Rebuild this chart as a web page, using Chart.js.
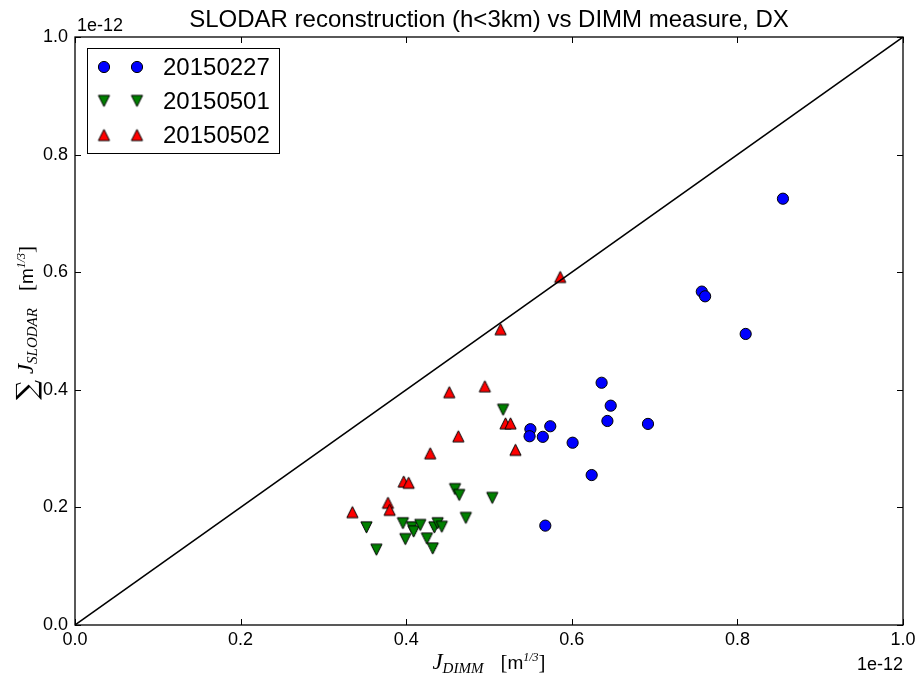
<!DOCTYPE html>
<html>
<head>
<meta charset="utf-8">
<script src="https://cdn.jsdelivr.net/npm/chart.js@4"></script>
<style>
  html, body { margin: 0; padding: 0; background: #fff; }
  canvas { display: block; }
</style>
</head>
<body>
<canvas id="chart" width="921" height="681"></canvas>
<script>
(() => {
    // all values in units of 1e-12 m^(1/3)
    const X_20150227 = [0.550, 0.549, 0.574, 0.565, 0.601, 0.568, 0.624, 0.636, 0.647, 0.643, 0.692, 0.757, 0.761, 0.810, 0.855];
    const Y_20150227 = [0.333, 0.321, 0.338, 0.320, 0.310, 0.169, 0.255, 0.412, 0.373, 0.347, 0.342, 0.567, 0.559, 0.495, 0.725];

    const X_20150501 = [0.517, 0.459, 0.464, 0.504, 0.472, 0.352, 0.396, 0.407, 0.409, 0.417, 0.434, 0.438, 0.443, 0.399, 0.425, 0.364, 0.432];
    const Y_20150501 = [0.366, 0.231, 0.221, 0.216, 0.182, 0.166, 0.173, 0.166, 0.159, 0.170, 0.166, 0.173, 0.167, 0.146, 0.147, 0.128, 0.130];

    const X_20150502 = [0.586, 0.514, 0.495, 0.452, 0.520, 0.526, 0.532, 0.463, 0.429, 0.397, 0.403, 0.378, 0.380, 0.335];
    const Y_20150502 = [0.592, 0.503, 0.406, 0.396, 0.343, 0.343, 0.298, 0.321, 0.292, 0.244, 0.242, 0.208, 0.196, 0.192];

    // 1:1 reference line
    const DIAG_X = [0, 1];
    const DIAG_Y = [0, 1];

    const TICKS = [0, 0.2, 0.4, 0.6, 0.8, 1.0];
    const TITLE = 'SLODAR reconstruction (h<3km) vs DIMM measure, DX';
    const OFFSET_TEXT = '1e-12';

    const SANS = '"Liberation Sans", Arial, Helvetica, sans-serif';
    const SERIF = '"Liberation Serif", "Times New Roman", serif';

    const pts = (xs, ys) => xs.map((x, i) => ({ x, y: ys[i] }));

    // matplotlib-like triangle markers
    function triangle(color, down) {
        const c = document.createElement('canvas');
        c.width = c.height = 15;
        const g = c.getContext('2d');
        const s = 5.6, cx = 7.5, cy = 7.5;
        g.beginPath();
        if (down) {
            g.moveTo(cx, cy + s); g.lineTo(cx - s, cy - s); g.lineTo(cx + s, cy - s);
        } else {
            g.moveTo(cx, cy - s); g.lineTo(cx - s, cy + s); g.lineTo(cx + s, cy + s);
        }
        g.closePath();
        g.fillStyle = color;
        g.fill();
        g.lineWidth = 1;
        g.strokeStyle = '#000';
        g.stroke();
        return c;
    }

    const SERIES = [
        { label: '20150227', color: '#0000ff', data: pts(X_20150227, Y_20150227), style: 'circle' },
        { label: '20150501', color: '#008000', data: pts(X_20150501, Y_20150501), style: triangle('#008000', true) },
        { label: '20150502', color: '#ff0000', data: pts(X_20150502, Y_20150502), style: triangle('#ff0000', false) },
    ];

    function drawMarker(ctx, s, x, y) {
        if (s.style === 'circle') {
            ctx.beginPath();
            ctx.arc(x, y, 5.6, 0, Math.PI * 2);
            ctx.fillStyle = s.color;
            ctx.fill();
            ctx.lineWidth = 1;
            ctx.strokeStyle = '#000';
            ctx.stroke();
        } else {
            ctx.drawImage(s.style, x - s.style.width / 2, y - s.style.height / 2);
        }
    }

    // draw a run of text pieces (mathtext-like) centred on 0 along the baseline
    function drawRun(ctx, parts) {
        let total = 0;
        for (const p of parts) {
            ctx.font = p.font;
            p.w = p.gap !== undefined ? p.gap : ctx.measureText(p.text).width;
            total += p.w;
        }
        let x = -total / 2;
        ctx.textAlign = 'left';
        ctx.textBaseline = 'alphabetic';
        for (const p of parts) {
            if (p.text) {
                ctx.font = p.font;
                ctx.fillText(p.text, x, p.dy || 0);
            }
            x += p.w;
        }
    }

    const decorations = {
        id: 'decorations',
        afterDraw(chart) {
            const { ctx, chartArea: a, scales } = chart;
            ctx.save();
            ctx.fillStyle = '#000';
            ctx.strokeStyle = '#000';

            // frame
            ctx.lineWidth = 1.3;
            ctx.strokeRect(a.left, a.top, a.right - a.left, a.bottom - a.top);

            // inward ticks on all four sides
            ctx.lineWidth = 1;
            ctx.beginPath();
            for (const t of scales.x.ticks) {
                const px = Math.round(scales.x.getPixelForValue(t.value)) + 0.5;
                ctx.moveTo(px, a.bottom); ctx.lineTo(px, a.bottom - 6);
                ctx.moveTo(px, a.top); ctx.lineTo(px, a.top + 6);
            }
            for (const t of scales.y.ticks) {
                const py = Math.round(scales.y.getPixelForValue(t.value)) + 0.5;
                ctx.moveTo(a.left, py); ctx.lineTo(a.left + 6, py);
                ctx.moveTo(a.right, py); ctx.lineTo(a.right - 6, py);
            }
            ctx.stroke();

            // title
            ctx.font = '24px ' + SANS;
            ctx.textAlign = 'center';
            ctx.textBaseline = 'alphabetic';
            ctx.fillText(TITLE, (a.left + a.right) / 2, 27);

            // offset texts
            ctx.font = '18px ' + SANS;
            ctx.textAlign = 'left';
            ctx.fillText(OFFSET_TEXT, a.left + 2, 31);
            ctx.textAlign = 'right';
            ctx.fillText(OFFSET_TEXT, a.right, 670);

            // x axis label
            ctx.save();
            ctx.translate((a.left + a.right) / 2, 669);
            drawRun(ctx, [
                { text: 'J', font: 'italic 23px ' + SERIF },
                { text: 'DIMM', font: 'italic 15px ' + SERIF, dy: 4 },
                { gap: 17 },
                { text: '[', font: '21px ' + SERIF },
                { text: 'm', font: '19px ' + SANS },
                { text: '1/3', font: 'italic 12px ' + SERIF, dy: -8 },
                { text: ']', font: '21px ' + SERIF },
            ]);
            ctx.restore();

            // y axis label
            ctx.save();
            ctx.translate(33, 323);
            ctx.rotate(-Math.PI / 2);
            drawRun(ctx, [
                { text: '\u2211', font: '28px "DejaVu Serif", serif', dy: 3 },
                { gap: 6 },
                { text: 'J', font: 'italic 23px ' + SERIF },
                { text: 'SLODAR', font: 'italic 15px ' + SERIF, dy: 4 },
                { gap: 17 },
                { text: '[', font: '21px ' + SERIF },
                { text: 'm', font: '19px ' + SANS },
                { text: '1/3', font: 'italic 12px ' + SERIF, dy: -8 },
                { text: ']', font: '21px ' + SERIF },
            ]);
            ctx.restore();

            // legend
            const lx = 87, ly = 48, lw = 192, lh = 105;
            ctx.fillStyle = '#fff';
            ctx.fillRect(lx, ly, lw, lh);
            ctx.lineWidth = 1;
            ctx.strokeRect(lx + 0.5, ly + 0.5, lw, lh);
            ctx.font = '24px ' + SANS;
            ctx.textAlign = 'left';
            ctx.textBaseline = 'middle';
            SERIES.forEach((s, i) => {
                const y = ly + 19 + i * 34;
                drawMarker(ctx, s, lx + 17, y);
                drawMarker(ctx, s, lx + 50, y);
                ctx.fillStyle = '#000';
                ctx.fillText(s.label, lx + 76, y + 1);
            });
            ctx.restore();
        },
    };

    const tickFont = { family: SANS, size: 18 };

    new Chart(document.getElementById('chart'), {
        type: 'scatter',
        data: {
            datasets: [
                {
                    label: '1:1',
                    data: pts(DIAG_X, DIAG_Y),
                    showLine: true,
                    borderColor: '#000',
                    borderWidth: 1.5,
                    pointRadius: 0,
                    order: 0,
                },
                ...SERIES.map(s => ({
                    label: s.label,
                    data: s.data,
                    pointStyle: s.style,
                    pointRadius: 5.6,
                    pointHoverRadius: 5.6,
                    backgroundColor: s.color,
                    borderColor: '#000',
                    borderWidth: 1,
                    order: 1,
                })),
            ],
        },
        options: {
            responsive: false,
            animation: false,
            devicePixelRatio: 1,
            layout: { padding: { top: 37, right: 18, left: 0, bottom: 0 } },
            plugins: {
                legend: { display: false },
                title: { display: false },
                tooltip: { enabled: false },
            },
            scales: {
                x: {
                    type: 'linear',
                    min: 0,
                    max: 1,
                    afterBuildTicks: s => { s.ticks = TICKS.map(v => ({ value: v })); },
                    ticks: { callback: v => v.toFixed(1), font: tickFont, color: '#000', padding: 4 },
                    grid: { display: false, drawTicks: false },
                    border: { display: false },
                    afterFit: s => { s.height = 56; },
                },
                y: {
                    type: 'linear',
                    min: 0,
                    max: 1,
                    afterBuildTicks: s => { s.ticks = TICKS.map(v => ({ value: v })); },
                    ticks: { callback: v => v.toFixed(1), font: tickFont, color: '#000', padding: 7 },
                    grid: { display: false, drawTicks: false },
                    border: { display: false },
                    afterFit: s => { s.width = 75; },
                },
            },
        },
        plugins: [decorations],
    });
})();
</script>
</body>
</html>
